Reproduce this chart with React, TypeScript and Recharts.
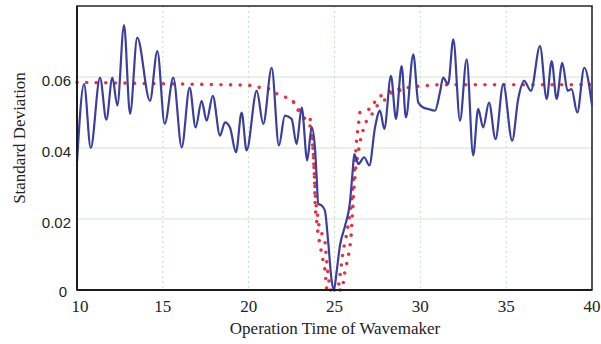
import React from 'react';
import { LineChart, Line, XAxis, YAxis, CartesianGrid, ReferenceArea } from 'recharts';

// operation time (s) vs standard deviation
const xTicks = [10, 15, 20, 25, 30, 35, 40];
const yTicks = [0, 0.02, 0.04, 0.06];

const measured: [number, number][] = [
  [10.0, 0.036], [10.41, 0.058], [10.8, 0.040], [11.34, 0.0598], [11.71, 0.048],
  [12.06, 0.0598], [12.35, 0.052], [12.74, 0.0746], [13.09, 0.0496], [13.51, 0.0711],
  [14.25, 0.0533], [14.68, 0.0673], [15.11, 0.0468], [15.61, 0.0598], [16.1, 0.0402],
  [16.56, 0.057], [16.91, 0.0458], [17.26, 0.0533], [17.55, 0.0477], [17.91, 0.0547],
  [18.33, 0.0435], [18.62, 0.0472], [18.91, 0.0458], [19.26, 0.0388], [19.59, 0.05],
  [19.88, 0.0393], [20.47, 0.0561], [20.85, 0.0468], [21.34, 0.0626], [21.76, 0.0407],
  [22.11, 0.0491], [22.5, 0.0482], [22.79, 0.0411], [23.09, 0.0514], [23.41, 0.0365],
  [23.67, 0.0458], [23.86, 0.0402], [23.96, 0.0318], [24.05, 0.0243], [24.25, 0.0238],
  [24.44, 0.0224], [24.64, 0.0131], [24.83, 0.0028], [24.97, 0.0], [25.12, 0.005],
  [25.32, 0.0126], [25.61, 0.018], [25.9, 0.0247], [26.05, 0.033], [26.15, 0.0383],
  [26.39, 0.0355], [26.73, 0.0374], [27.03, 0.0351], [27.36, 0.0458], [27.65, 0.0505],
  [27.9, 0.0454], [28.29, 0.0603], [28.58, 0.0482], [28.91, 0.0631], [29.16, 0.0486],
  [29.59, 0.0664], [29.88, 0.0528], [30.17, 0.0514], [30.46, 0.051], [30.85, 0.0505],
  [31.14, 0.0556], [31.33, 0.0598], [31.62, 0.058], [31.92, 0.0706], [32.31, 0.0477],
  [32.7, 0.065], [33.08, 0.0379], [33.37, 0.051], [33.66, 0.0458], [34.0, 0.0528],
  [34.38, 0.0425], [34.83, 0.058], [35.35, 0.0421], [35.7, 0.0538], [36.05, 0.0589],
  [36.44, 0.0561], [36.97, 0.0687], [37.36, 0.0538], [37.65, 0.0645], [37.94, 0.0538],
  [38.27, 0.064], [38.58, 0.0561], [38.81, 0.0566], [39.14, 0.05], [39.55, 0.0626],
  [40.0, 0.052],
];

const theoryWide: [number, number][] = [
  [10, 0.0585], [20, 0.0577], [20.7, 0.057], [21.24, 0.0566], [21.73, 0.055],
  [22.21, 0.0542], [22.6, 0.053], [23.0, 0.0505], [23.3, 0.048], [23.6, 0.046],
  [23.75, 0.04], [23.83, 0.032], [23.88, 0.023], [24.05, 0.0155], [24.25, 0.0103],
  [24.45, 0.0056], [24.55, 0], [25.2, 0], [25.35, 0.005], [25.5, 0.011],
  [25.7, 0.0155], [25.85, 0.02], [26.0, 0.025], [26.1, 0.031], [26.2, 0.036],
  [26.3, 0.043], [26.48, 0.05], [26.8, 0.0505], [27.16, 0.0512], [27.45, 0.054],
  [27.9, 0.0552], [28.4, 0.0563], [29.6, 0.0573], [31, 0.0578], [40, 0.0578],
];

const theoryNarrow: [number, number][] = [
  [22.6, 0.053], [22.9, 0.0505], [23.28, 0.048], [23.57, 0.0486], [23.7, 0.044],
  [23.8, 0.035], [23.9, 0.025], [24.1, 0.018], [24.25, 0.016], [24.44, 0.014],
  [24.54, 0.0084], [24.64, 0.0037], [24.75, 0], [25.45, 0], [25.6, 0.005],
  [25.8, 0.0093], [25.95, 0.014], [26.05, 0.022], [26.12, 0.028], [26.25, 0.035],
  [26.5, 0.042], [26.77, 0.047], [27.07, 0.0486], [27.5, 0.052], [27.94, 0.0536],
  [28.42, 0.0561], [29.0, 0.0563],
];

const toRows = (pts: [number, number][]) => pts.map(([t, sd]) => ({ t, sd }));

const serif = '"Liberation Serif", "Times New Roman", serif';
const sans = '"Liberation Sans", Arial, sans-serif';

const YTick = (props: any) => {
  const { x, y, payload } = props;
  const zero = payload.value === 0;
  return (
    <text
      x={zero ? x - 4 : x}
      y={y + (zero ? 1 : 3)}
      textAnchor="end"
      dominantBaseline="central"
      fontFamily={sans}
      fontSize={15}
      fill="#222"
    >
      {zero ? '0' : payload.value.toFixed(2)}
    </text>
  );
};

const XTick = (props: any) => {
  const { x, y, payload } = props;
  return (
    <text
      x={payload.value === 10 ? x + 3 : x}
      y={y}
      dy="0.71em"
      textAnchor="middle"
      fontFamily={serif}
      fontSize={17}
      fill="#222"
    >
      {payload.value}
    </text>
  );
};

// dotted red curves share one look
const dotted = {
  type: 'linear' as const,
  stroke: '#e8303f',
  strokeWidth: 3.6,
  strokeDasharray: '0 9.6',
  strokeLinecap: 'round' as const,
  dot: false,
  isAnimationActive: false,
};

export default function App() {
  return (
    <div
      style={{
        position: 'absolute',
        left: 0,
        top: 0,
        width: 601,
        height: 344,
        background: '#fff',
        overflow: 'hidden',
      }}
    >
      <LineChart width={601} height={344} margin={{ top: 6, right: 9, bottom: 0, left: 0 }}>
        <CartesianGrid horizontal vertical={false} stroke="#cfe6c6" strokeWidth={1} />
        <CartesianGrid horizontal={false} vertical stroke="#c7dccb" strokeDasharray="2 3" />
        <XAxis
          type="number"
          dataKey="t"
          domain={[10, 40]}
          ticks={xTicks}
          height={54}
          tickSize={0}
          tickMargin={10}
          tick={<XTick />}
          tickLine={false}
          axisLine={{ stroke: '#1c1c1c', strokeWidth: 2 }}
          label={() => (
            <text x={335} y={334} textAnchor="middle" fontFamily={serif} fontSize={17} fill="#222">
              Operation Time of Wavemaker
            </text>
          )}
        />
        <YAxis
          type="number"
          domain={[0, 0.08]}
          ticks={yTicks}
          width={77}
          tickSize={0}
          tickMargin={6}
          tick={<YTick />}
          tickLine={false}
          axisLine={{ stroke: '#1c1c1c', strokeWidth: 2 }}
          label={() => (
            <text
              x={19}
              y={138}
              transform="rotate(-90 19 138)"
              textAnchor="middle"
              dominantBaseline="central"
              fontFamily={serif}
              fontSize={17}
              fill="#222"
            >
              Standard Deviation
            </text>
          )}
        />
        <ReferenceArea x1={10} x2={40} y1={0} y2={0.08} fill="none" stroke="#2b2b2b" strokeWidth={1.6} />
        <Line data={toRows(theoryWide)} dataKey="sd" {...dotted} />
        <Line data={toRows(theoryNarrow)} dataKey="sd" {...dotted} />
        <Line
          data={toRows(measured)}
          dataKey="sd"
          type="monotone"
          stroke="#3a3f9f"
          strokeWidth={2.2}
          dot={false}
          isAnimationActive={false}
        />
      </LineChart>
    </div>
  );
}
